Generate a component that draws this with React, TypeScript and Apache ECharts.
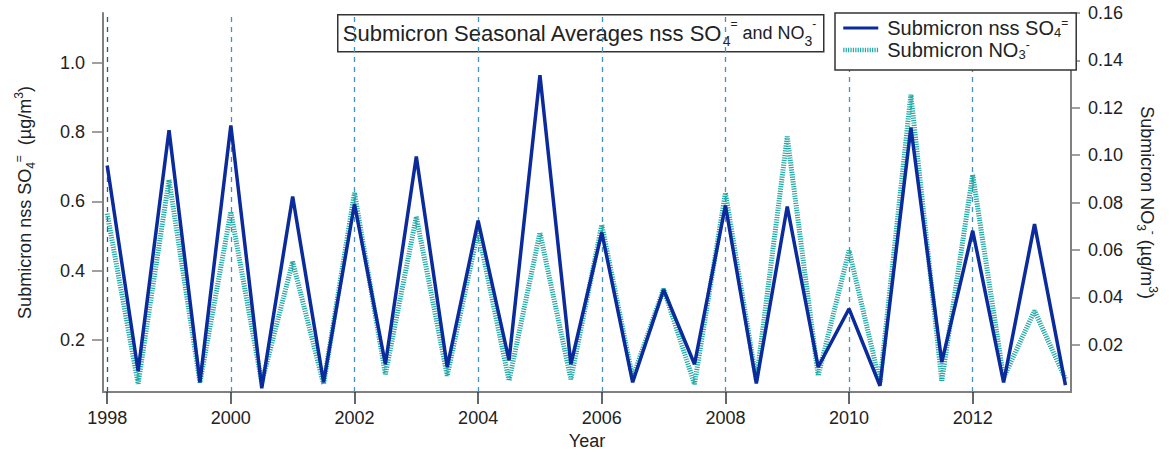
import React, { useEffect, useRef } from "react";
import * as echarts from "echarts";

// Seasonal sample times (decimal year)
const seasons = [
  1998, 1998.5, 1999, 1999.5, 2000, 2000.5, 2001, 2001.5,
  2002, 2002.5, 2003, 2003.5, 2004, 2004.5, 2005, 2005.5,
  2006, 2006.5, 2007, 2007.5, 2008, 2008.5, 2009, 2009.5,
  2010, 2010.5, 2011, 2011.5, 2012, 2012.5, 2013, 2013.5,
];

// Submicron nss SO4= (µg/m3), left axis
const so4 = [
  0.703, 0.11, 0.805, 0.078, 0.819, 0.061, 0.614, 0.078,
  0.592, 0.13, 0.729, 0.122, 0.544, 0.141, 0.964, 0.13,
  0.51, 0.078, 0.345, 0.13, 0.588, 0.075, 0.585, 0.122,
  0.29, 0.068, 0.813, 0.136, 0.515, 0.078, 0.534, 0.07,
];

// Submicron NO3- (µg/m3), right axis
const no3 = [
  0.0753, 0.0035, 0.0896, 0.004, 0.0761, 0.004, 0.055, 0.0033,
  0.0841, 0.0075, 0.074, 0.0069, 0.068, 0.0048, 0.0673, 0.0054,
  0.0706, 0.006, 0.0436, 0.0033, 0.0841, 0.005, 0.1078, 0.0069,
  0.0597, 0.004, 0.1255, 0.0048, 0.0917, 0.006, 0.0343, 0.0055,
];

const yearTicks = [1998, 2000, 2002, 2004, 2006, 2008, 2010, 2012];
const so4Ticks = [0.2, 0.4, 0.6, 0.8, 1.0];
const no3Ticks = [0.02, 0.04, 0.06, 0.08, 0.1, 0.12, 0.14, 0.16];

const FONT = "'Liberation Sans', Arial, sans-serif";
const TEXT = "#222";
const AXIS = "#808080";
const SO4_COLOR = "#0b2b9c";
const NO3_COLOR = "#1fa9a6";
const NO3_DASH = [1.2, 1.2];

const richSet = (size: number, sub: number, sup: number, lh: number) => ({
  t: { fontSize: size, fontFamily: FONT, color: TEXT, fill: TEXT, lineHeight: lh },
  m: { fontSize: size - 4, fontFamily: FONT, color: TEXT, fill: TEXT, lineHeight: lh },
  s: { fontSize: sub, fontFamily: FONT, color: TEXT, fill: TEXT, lineHeight: sub, verticalAlign: "bottom" },
  p: { fontSize: sup, fontFamily: FONT, color: TEXT, fill: TEXT, lineHeight: sup, verticalAlign: "top" },
});

export default function App() {
  const ref = useRef<HTMLDivElement>(null);

  useEffect(() => {
    if (!ref.current) return;
    const chart = echarts.init(ref.current, undefined, { renderer: "svg" });

    const option: any = {
      animation: false,
      backgroundColor: "#fff",
      textStyle: { fontFamily: FONT },
      grid: { left: 103, right: 98, top: 13, bottom: 63, containLabel: false },
      legend: {
        left: 835,
        top: 13,
        orient: "vertical",
        data: [
          { name: "so4", itemStyle: { opacity: 0 }, lineStyle: { width: 3, color: SO4_COLOR } },
          { name: "no3", itemStyle: { opacity: 0 }, lineStyle: { width: 4.5, color: NO3_COLOR, type: NO3_DASH } },
        ],
        itemStyle: { opacity: 0 },
        itemWidth: 35,
        itemHeight: 14,
        itemGap: 0,
        padding: [4, 8, 9, 6],
        borderColor: "#333",
        borderWidth: 1.5,
        backgroundColor: "#fff",
        z: 20,
        formatter: (name: string) =>
          name === "so4"
            ? "{t|Submicron nss SO}{s|4}{p|=}"
            : "{t|Submicron NO}{s|3}{p|-}",
        textStyle: { padding: [0, 0, 0, 4], rich: richSet(20, 13, 12, 22) },
      },
      xAxis: {
        type: "value",
        min: 1997.932,
        max: 2013.59,
        name: "Year",
        nameLocation: "middle",
        nameGap: 39,
        nameTextStyle: { fontSize: 18, color: TEXT, fontFamily: FONT },
        axisLine: { show: true, onZero: false, lineStyle: { color: AXIS, width: 2 } },
        axisTick: { show: true, length: 12, customValues: yearTicks, lineStyle: { color: "#333", width: 1.5 } },
        axisLabel: {
          customValues: yearTicks,
          margin: 17,
          fontSize: 18,
          color: TEXT,
          fontFamily: FONT,
          formatter: (v: number) => String(Math.round(v)),
        },
        splitLine: { show: false },
      },
      yAxis: [
        {
          type: "value",
          min: 0.05,
          max: 1.143,
          position: "left",
          name: "{t|Submicron nss SO}{s|4}{p|=}{t|  (µg/m}{p|3}{t|)}",
          nameLocation: "middle",
          nameRotate: 90,
          nameGap: 66,
          nameTextStyle: { rich: richSet(18, 12, 12, 24) },
          axisLine: { show: true, lineStyle: { color: AXIS, width: 2 } },
          axisTick: { show: true, length: 11, customValues: so4Ticks, lineStyle: { color: AXIS, width: 1.5 } },
          axisLabel: {
            customValues: so4Ticks,
            margin: 18,
            fontSize: 18,
            color: TEXT,
            fontFamily: FONT,
            formatter: (v: number) => v.toFixed(1),
          },
          splitLine: { show: false },
        },
        {
          type: "value",
          min: 0,
          max: 0.16,
          position: "right",
          name: "{t|Submicron NO}{s|3}{p|-}{t| (µg/m}{p|3}{t|)}",
          nameLocation: "middle",
          nameRotate: -90,
          nameGap: 64,
          nameTextStyle: { rich: richSet(18, 12, 12, 24) },
          axisLine: { show: true, lineStyle: { color: AXIS, width: 2 } },
          axisTick: { show: true, length: 9, customValues: no3Ticks, lineStyle: { color: AXIS, width: 1.5 } },
          axisLabel: {
            customValues: no3Ticks,
            margin: 17,
            fontSize: 18,
            color: TEXT,
            fontFamily: FONT,
            formatter: (v: number) => v.toFixed(2),
          },
          splitLine: { show: false },
        },
      ],
      series: [
        {
          name: "no3",
          type: "line",
          yAxisIndex: 1,
          data: seasons.map((t, i) => [t, no3[i]]),
          showSymbol: false,
          symbol: "none",
          z: 2,
          lineStyle: { color: NO3_COLOR, width: 5, type: NO3_DASH },
          itemStyle: { color: NO3_COLOR },
        },
        {
          name: "so4",
          type: "line",
          yAxisIndex: 0,
          data: seasons.map((t, i) => [t, so4[i]]),
          showSymbol: false,
          symbol: "none",
          z: 3,
          lineStyle: { color: SO4_COLOR, width: 3.5 },
          itemStyle: { color: SO4_COLOR },
          markLine: {
            silent: true,
            symbol: "none",
            z: 1,
            label: { show: false },
            data: yearTicks.map((y) => ({
              xAxis: y,
              lineStyle: {
                color: y === 1998 ? "#1d5f96" : "#3f93c6",
                type: [5, 5],
                width: 1.3,
              },
            })),
          },
        },
      ],
      graphic: [
        {
          type: "group",
          left: 337,
          top: 14,
          z: 30,
          children: [
            {
              type: "rect",
              shape: { x: 0, y: 0, width: 486, height: 37 },
              style: { fill: "#fff", stroke: "#333", lineWidth: 1.5 },
            },
            {
              type: "text",
              x: 5,
              y: 18.5,
              style: {
                text: "{t|Submicron Seasonal Averages nss SO}{s|4}{p|=}{m| and NO}{s|3}{p|-}",
                align: "left",
                verticalAlign: "middle",
                rich: richSet(22, 14, 12, 30),
              },
            },
          ],
        },
      ],
    };

    chart.setOption(option);
    return () => chart.dispose();
  }, []);

  return (
    <div
      ref={ref}
      style={{ position: "fixed", left: 0, top: 0, width: 1169, height: 455, background: "#fff" }}
    />
  );
}
